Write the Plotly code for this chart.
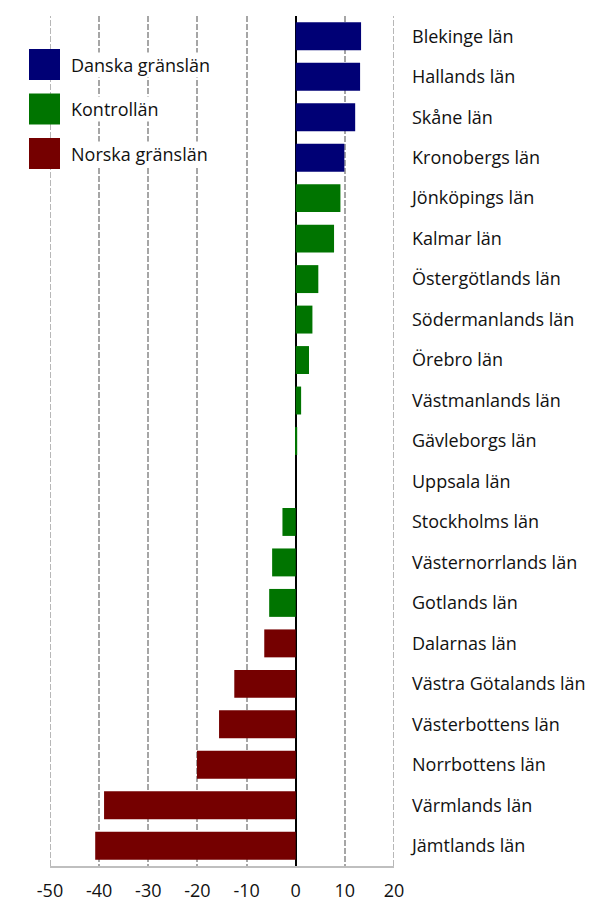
import plotly.graph_objects as go

categories = ["Blekinge län", "Hallands län", "Skåne län", "Kronobergs län",
              "Jönköpings län", "Kalmar län", "Östergötlands län", "Södermanlands län",
              "Örebro län", "Västmanlands län", "Gävleborgs län", "Uppsala län",
              "Stockholms län", "Västernorrlands län", "Gotlands län", "Dalarnas län",
              "Västra Götalands län", "Västerbottens län", "Norrbottens län",
              "Värmlands län", "Jämtlands län"]
values = [13.3, 13.1, 12.1, 9.9, 9.1, 7.8, 4.6, 3.4, 2.7, 1.1, 0.3, 0.0,
          -2.7, -4.8, -5.4, -6.4, -12.5, -15.6, -20.1, -39.0, -40.8]
groups = ["Danska gränslän"] * 4 + ["Kontrollän"] * 11 + ["Norska gränslän"] * 6
group_names = ["Danska gränslän", "Kontrollän", "Norska gränslän"]
group_colors = ["#000075", "#007400", "#750000"]
x_ticks = [-50, -40, -30, -20, -10, 0, 10, 20]

FONT = "Open Sans"
GRID_COLOR = "#a6a6a6"
GRID_DASH = "6px,2px"

# page body has an 8px margin; size the figure so it ends exactly at the window edge
OFF = 8
PL, PR, PT, PB = 50, 394, 16, 866   # plot area in page pixels
W, H = 595 - OFF, 902 - OFF

fig = go.Figure()
for g, c in zip(group_names, group_colors):
    ys = [cat for cat, gg in zip(categories, groups) if gg == g]
    xs = [v for v, gg in zip(values, groups) if gg == g]
    fig.add_trace(go.Bar(x=xs, y=ys, orientation="h", marker=dict(color=c, line=dict(width=0)),
                         name=g, showlegend=False))

# edge gridlines (plotly skips gridlines at the very edges of the range)
for xv in (x_ticks[0], x_ticks[-1]):
    fig.add_shape(type="line", xref="x", yref="paper", x0=xv, x1=xv, y0=0, y1=1,
                  line=dict(color=GRID_COLOR, width=1.6, dash=GRID_DASH), layer="below")

pw, ph = PR - PL, PB - PT
def px_x(x):
    return (x - PL) / pw
def px_y(y):
    return 1 - (y - PT) / ph

# manual legend (boxes + labels)
leg_top = 49
for i, (g, c) in enumerate(zip(group_names, group_colors)):
    y0 = leg_top + i * 44.5
    fig.add_shape(type="rect", xref="paper", yref="paper",
                  x0=px_x(29), x1=px_x(60), y0=px_y(y0), y1=px_y(y0 + 31),
                  fillcolor=c, line=dict(width=0), layer="above")
    fig.add_annotation(xref="paper", yref="paper", x=px_x(70),
                       y=px_y(y0 + 16), text=g, showarrow=False,
                       xanchor="left", yanchor="middle", bgcolor="white", borderpad=0,
                       font=dict(family=FONT, size=18, color="#111111"))

fig.update_layout(
    width=W, height=H,
    margin=dict(l=PL - OFF, r=W - (PR - OFF), t=PT - OFF, b=H - (PB - OFF), autoexpand=False),
    plot_bgcolor="white", paper_bgcolor="white",
    barmode="relative", bargap=0.31,
    font=dict(family=FONT, size=18, color="#111111"),
    xaxis=dict(range=[x_ticks[0], x_ticks[-1]], tickvals=x_ticks, ticktext=[str(t) for t in x_ticks],
               showgrid=True, gridcolor=GRID_COLOR, griddash=GRID_DASH, gridwidth=1.6,
               zeroline=True, zerolinecolor="black", zerolinewidth=2,
               showline=True, linecolor="#bfbfbf", linewidth=2,
               ticks="", ticklabelstandoff=7, fixedrange=True, automargin=False,
               tickfont=dict(family=FONT, size=18, color="#111111")),
    yaxis=dict(categoryorder="array", categoryarray=categories, autorange="reversed",
               side="right", ticks="", showgrid=False, zeroline=False, showline=False,
               ticklabelstandoff=17, fixedrange=True, automargin=False,
               tickfont=dict(family=FONT, size=18, color="#111111")),
)

fig.write_html("out.html")
